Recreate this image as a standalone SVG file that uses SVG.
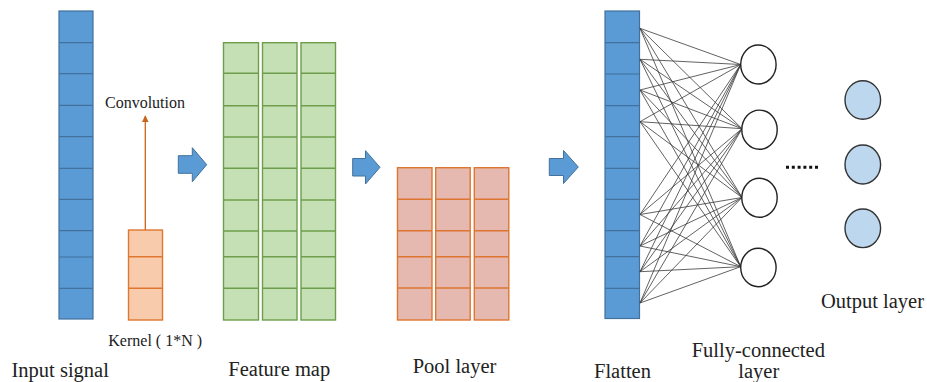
<svg xmlns="http://www.w3.org/2000/svg" width="927" height="382" viewBox="0 0 927 382">
<style>
.blue{fill:#5B9BD5;stroke:#41719C;stroke-width:1.2}
.bdiv{stroke:#41719C;stroke-width:1.2}
.green{fill:#C5E0B4;stroke:#6E9E4C;stroke-width:1.4}
.gdiv{stroke:#6E9E4C;stroke-width:1.4}
.kern{fill:#F8CBAD;stroke:#E0772F;stroke-width:1.4}
.kdiv{stroke:#E0772F;stroke-width:1.4}
.pool{fill:#E6B9B0;stroke:#DE7530;stroke-width:1.4}
.pdiv{stroke:#DE7530;stroke-width:1.4}
.barrow{fill:#5B9BD5;stroke:#41719C;stroke-width:1}
.hid{fill:#FFFFFF;stroke:#222;stroke-width:1.4}
.out{fill:#BDD7EE;stroke:#333;stroke-width:1.4}
.conn line{stroke:#3a3a3a;stroke-width:0.8}
.lbl{font-family:"Liberation Serif","Times New Roman",serif;font-size:20.5px;fill:#222}
.sml{font-family:"Liberation Serif","Times New Roman",serif;font-size:16px;fill:#222}
</style>
<defs>
<marker id="ah" viewBox="0 0 10 10" refX="9" refY="5" markerWidth="7" markerHeight="7" markerUnits="userSpaceOnUse" orient="auto">
<path d="M0,0 L10,5 L0,10 z" fill="#C8641E"/>
</marker>
</defs>

<g id="input-signal">
<rect class="blue" x="59" y="11" width="34" height="308"/>
<g class="bdiv">
<line x1="59" y1="42.7" x2="93" y2="42.7"/><line x1="59" y1="73.7" x2="93" y2="73.7"/>
<line x1="59" y1="105.3" x2="93" y2="105.3"/><line x1="59" y1="136.7" x2="93" y2="136.7"/>
<line x1="59" y1="168.3" x2="93" y2="168.3"/><line x1="59" y1="199.3" x2="93" y2="199.3"/>
<line x1="59" y1="230.7" x2="93" y2="230.7"/><line x1="59" y1="257" x2="93" y2="257"/>
<line x1="59" y1="288.3" x2="93" y2="288.3"/>
</g>
<text class="lbl" x="11.5" y="376.7">Input signal</text>
</g>

<g id="kernel">
<rect class="kern" x="128.5" y="230" width="34" height="90"/>
<line class="kdiv" x1="128.5" y1="256.7" x2="162.5" y2="256.7"/>
<line class="kdiv" x1="128.5" y1="288.3" x2="162.5" y2="288.3"/>
<text class="sml" x="108.3" y="345.7">Kernel ( 1*N )</text>
</g>

<g id="convolution">
<line x1="145.3" y1="230" x2="145.3" y2="116" stroke="#C8641E" stroke-width="1.3" marker-end="url(#ah)"/>
<text class="sml" x="105" y="108.3">Convolution</text>
</g>

<g id="arrow1"><path class="barrow" d="M178.3,155.7 H192.3 V147.7 L206.7,164.7 L192.3,181.7 V173.3 H178.3 Z"/></g>
<g id="arrow2"><path class="barrow" d="M352.7,158.5 H365.5 V150.7 L380,167.3 L365.5,184 V176 H352.7 Z"/></g>
<g id="arrow3"><path class="barrow" d="M549.3,158.5 H563.5 V150.5 L578.3,167 L563.5,183.5 V175.5 H549.3 Z"/></g>

<g id="feature-map">
<rect class="green" x="223.5" y="42.7" width="35" height="277.3"/>
<rect class="green" x="262.5" y="42.7" width="34.5" height="277.3"/>
<rect class="green" x="301" y="42.7" width="34.5" height="277.3"/>
<g class="gdiv">
<path d="M223.5,73.3H258.5M262.5,73.3H297M301,73.3H335.5"/>
<path d="M223.5,105.7H258.5M262.5,105.7H297M301,105.7H335.5"/>
<path d="M223.5,137H258.5M262.5,137H297M301,137H335.5"/>
<path d="M223.5,168.3H258.5M262.5,168.3H297M301,168.3H335.5"/>
<path d="M223.5,200H258.5M262.5,200H297M301,200H335.5"/>
<path d="M223.5,231H258.5M262.5,231H297M301,231H335.5"/>
<path d="M223.5,256.7H258.5M262.5,256.7H297M301,256.7H335.5"/>
<path d="M223.5,288.3H258.5M262.5,288.3H297M301,288.3H335.5"/>
</g>
<text class="lbl" x="228.3" y="376">Feature map</text>
</g>

<g id="pool-layer">
<rect class="pool" x="397.5" y="167.7" width="34.5" height="152.3"/>
<rect class="pool" x="435.7" y="167.7" width="34.5" height="152.3"/>
<rect class="pool" x="474.3" y="167.7" width="34.5" height="152.3"/>
<g class="pdiv">
<path d="M397.5,199.3H432M435.7,199.3H470.2M474.3,199.3H508.8"/>
<path d="M397.5,230.7H432M435.7,230.7H470.2M474.3,230.7H508.8"/>
<path d="M397.5,256.7H432M435.7,256.7H470.2M474.3,256.7H508.8"/>
<path d="M397.5,288H432M435.7,288H470.2M474.3,288H508.8"/>
</g>
<text class="lbl" x="412.7" y="373.3">Pool layer</text>
</g>

<g id="flatten">
<rect class="blue" x="605" y="11" width="34.5" height="307.5"/>
<g class="bdiv">
<line x1="605" y1="42.7" x2="639.5" y2="42.7"/><line x1="605" y1="74" x2="639.5" y2="74"/>
<line x1="605" y1="105.7" x2="639.5" y2="105.7"/><line x1="605" y1="136.7" x2="639.5" y2="136.7"/>
<line x1="605" y1="168.3" x2="639.5" y2="168.3"/><line x1="605" y1="199.3" x2="639.5" y2="199.3"/>
<line x1="605" y1="230.7" x2="639.5" y2="230.7"/><line x1="605" y1="256.7" x2="639.5" y2="256.7"/>
<line x1="605" y1="288.3" x2="639.5" y2="288.3"/>
</g>
<text class="lbl" x="594" y="378.3">Flatten</text>
</g>

<g id="connectors" class="conn">
<line x1="640" y1="28.3" x2="740.7" y2="64.5"/><line x1="640" y1="28.3" x2="742" y2="128.7"/><line x1="640" y1="28.3" x2="742" y2="197.5"/><line x1="640" y1="28.3" x2="740.7" y2="266.7"/>
<line x1="640" y1="59.3" x2="740.7" y2="64.5"/><line x1="640" y1="59.3" x2="742" y2="128.7"/><line x1="640" y1="59.3" x2="742" y2="197.5"/><line x1="640" y1="59.3" x2="740.7" y2="266.7"/>
<line x1="640" y1="90" x2="740.7" y2="64.5"/><line x1="640" y1="90" x2="742" y2="128.7"/><line x1="640" y1="90" x2="742" y2="197.5"/><line x1="640" y1="90" x2="740.7" y2="266.7"/>
<line x1="640" y1="121.7" x2="740.7" y2="64.5"/><line x1="640" y1="121.7" x2="742" y2="128.7"/><line x1="640" y1="121.7" x2="742" y2="197.5"/><line x1="640" y1="121.7" x2="740.7" y2="266.7"/>
<line x1="640" y1="214.5" x2="740.7" y2="64.5"/><line x1="640" y1="214.5" x2="742" y2="128.7"/><line x1="640" y1="214.5" x2="742" y2="197.5"/><line x1="640" y1="214.5" x2="740.7" y2="266.7"/>
<line x1="640" y1="246" x2="740.7" y2="64.5"/><line x1="640" y1="246" x2="742" y2="128.7"/><line x1="640" y1="246" x2="742" y2="197.5"/><line x1="640" y1="246" x2="740.7" y2="266.7"/>
<line x1="640" y1="271.7" x2="740.7" y2="64.5"/><line x1="640" y1="271.7" x2="742" y2="128.7"/><line x1="640" y1="271.7" x2="742" y2="197.5"/><line x1="640" y1="271.7" x2="740.7" y2="266.7"/>
<line x1="640" y1="303" x2="740.7" y2="64.5"/><line x1="640" y1="303" x2="742" y2="128.7"/><line x1="640" y1="303" x2="742" y2="197.5"/><line x1="640" y1="303" x2="740.7" y2="266.7"/>
</g>

<g id="fully-connected">
<ellipse class="hid" cx="758.4" cy="64.5" rx="17.7" ry="19.5"/>
<ellipse class="hid" cx="759.5" cy="129.7" rx="17.7" ry="19.6"/>
<ellipse class="hid" cx="759.5" cy="197.8" rx="17.7" ry="19.5"/>
<ellipse class="hid" cx="758.4" cy="267.5" rx="17.7" ry="19.2"/>
<text class="lbl" x="691.7" y="356.7">Fully-connected</text>
<text class="lbl" x="738.3" y="378">layer</text>
</g>

<g id="ellipsis">
<line x1="786" y1="167.3" x2="820" y2="167.3" stroke="#111" stroke-width="3" stroke-dasharray="3,2.8"/>
</g>

<g id="output-layer">
<ellipse class="out" cx="862.8" cy="100" rx="17.8" ry="19.3"/>
<ellipse class="out" cx="862.8" cy="164.5" rx="17.8" ry="19.5"/>
<ellipse class="out" cx="862.8" cy="228.3" rx="17.8" ry="19.3"/>
<text class="lbl" x="821" y="308.3">Output layer</text>
</g>
</svg>
